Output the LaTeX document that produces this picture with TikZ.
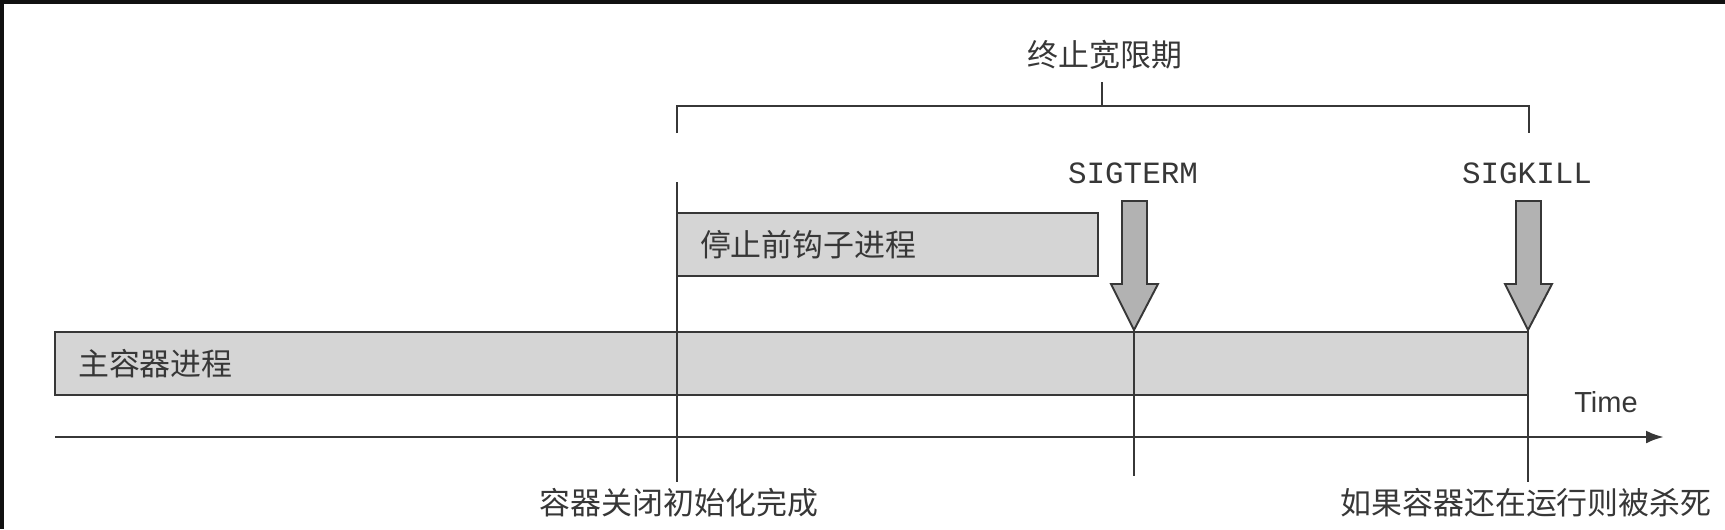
\documentclass[tikz,border=0pt]{standalone}
\usepackage{fontspec}
\setmainfont{Liberation Sans}
\setmonofont{Liberation Mono}
\newfontfamily\cjk{Noto Sans CJK SC}
\usepackage{tikz}
\usetikzlibrary{arrows.meta,positioning}
\usepackage{xcolor}
\definecolor{tldark}{RGB}{55,55,55}
\definecolor{tlbox}{RGB}{213,213,213}
\definecolor{tlsig}{RGB}{178,178,178}
\definecolor{tlframe}{RGB}{17,17,17}
\tikzstyle{procbox} = [rectangle, draw=tldark, fill=tlbox, line width=1.3pt, minimum height=1.26cm, inner xsep=0.46cm, align=left, text=tldark, font=\cjk\fontsize{17.6}{20}\selectfont]
\tikzstyle{cjktext} = [text=tldark, font=\cjk\fontsize{17.6}{20}\selectfont]
\tikzstyle{sigtext} = [text=tldark, font=\ttfamily\fontsize{17.6}{20}\selectfont]
\tikzstyle{timetext} = [text=tldark, font=\fontsize{16.5}{19}\selectfont]
\tikzstyle{marker} = [draw=tldark, line width=1.1pt]
\tikzstyle{bracket} = [draw=tldark, line width=1.4pt]
\tikzstyle{axis} = [draw=tldark, line width=1.6pt, -{Latex[length=0.36cm,width=0.26cm]}]
\tikzstyle{sigarrow} = [draw=tldark, fill=tlsig, line width=1.1pt, line join=miter]

\begin{document}
\begin{tikzpicture}[x=0.02cm, y=-0.02cm]
\useasboundingbox (0,0) rectangle (1725,529);
% frame edges of the screenshot
\fill [tlframe] (0,0) rectangle (1725,4);
\fill [tlframe] (0,0) rectangle (4,529);

% processes
\node (mainproc) [procbox, text width=28.54cm] at (791.5,363.5) {\raisebox{-1.5pt}{主容器进程}};
\node (hookproc) [procbox, text width=7.5cm] at (887.5,244.5) {停止前钩子进程};

% time axis
\coordinate (axisstart) at (55,437);
\coordinate (axisend) at (1664,437);
\draw [axis] (axisstart) -- (axisend);
\node (timelabel) [timetext] at (1606,402) {Time};

% events
\node (initlabel) [cjktext] at (679,503) {容器关闭初始化完成};
\node (killlabel) [cjktext] at (1526,503) {如果容器还在运行则被杀死};
\coordinate (inittop) at (677,182);
\coordinate (termtip) at (1134,330);
\coordinate (termend) at (1134,476);
\coordinate (killtip) at (1528,330);
\draw [marker] (inittop) -- (inittop |- initlabel.north);
\draw [marker] (termtip) -- (termend);
\draw [marker] (killtip) -- (killtip |- killlabel.north);

% signals
\draw [sigarrow] (termtip) -- ++(-23,-46) -- ++(11,0) -- ++(0,-83) -- ++(25,0) -- ++(0,83) -- ++(11,0) -- cycle;
\draw [sigarrow] (killtip) -- ++(-23,-46) -- ++(11,0) -- ++(0,-83) -- ++(25,0) -- ++(0,83) -- ++(11,0) -- cycle;
\node (termsig) [sigtext] at (1133,173) {SIGTERM};
\node (killsig) [sigtext] at (1527,173) {SIGKILL};

% grace period
\coordinate (graceleft) at (677,133);
\coordinate (graceright) at (1529,133);
\coordinate (gracemid) at (1102,106);
\draw [bracket] (graceleft) -- ++(0,-27) -| (graceright);
\draw [bracket] (gracemid) -- ++(0,-24);
\node (gracetitle) [cjktext] at (1105,55) {终止宽限期};
\end{tikzpicture}
\end{document}
